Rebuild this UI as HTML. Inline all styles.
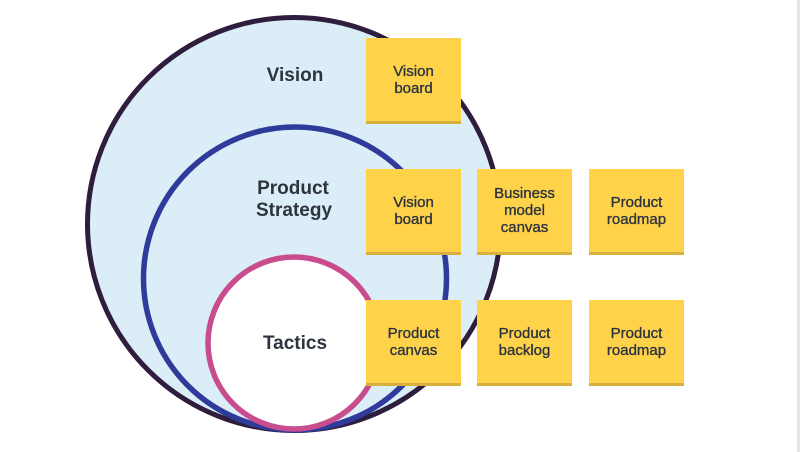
<!DOCTYPE html>
<html><head><meta charset="utf-8"><style>
html,body{margin:0;padding:0;background:#fff}
body{width:800px;height:452px;position:relative;overflow:hidden;font-family:"Liberation Sans",sans-serif;color:#2d3440}
.s{position:absolute;width:95px;height:83px;background:#fed349;border-bottom:3px solid #d8b13c;display:flex;align-items:center;justify-content:center;text-align:center;font-size:15px;line-height:17px;-webkit-text-stroke:0.35px #2d3440}
.edge{position:absolute;left:797px;top:0;width:3px;height:452px;background:#e6e6e6}
</style></head><body>
<svg width="800" height="452" style="position:absolute;left:0;top:0">
<circle cx="294" cy="224" r="206.5" fill="#dbeef8" stroke="#2e1d3d" stroke-width="5"/>
<circle cx="295" cy="278.5" r="151.5" fill="#dbeef8" stroke="#2e3b9a" stroke-width="5.5"/>
<circle cx="294" cy="343" r="86" fill="#fff" stroke="#c94d8e" stroke-width="5.5"/>
<g font-family="Liberation Sans, sans-serif" font-weight="bold" font-size="19" fill="#2d3440" text-anchor="middle">
<text x="295" y="81">Vision</text>
<text x="293" y="194">Product</text>
<text x="294" y="216">Strategy</text>
<text x="295" y="349">Tactics</text>
</g>
</svg>
<div class="s" style="left:366px;top:38px">Vision<br>board</div>
<div class="s" style="left:366px;top:169px">Vision<br>board</div>
<div class="s" style="left:477px;top:169px">Business<br>model<br>canvas</div>
<div class="s" style="left:589px;top:169px">Product<br>roadmap</div>
<div class="s" style="left:366px;top:300px">Product<br>canvas</div>
<div class="s" style="left:477px;top:300px">Product<br>backlog</div>
<div class="s" style="left:589px;top:300px">Product<br>roadmap</div>
<div class="edge"></div>
</body></html>
